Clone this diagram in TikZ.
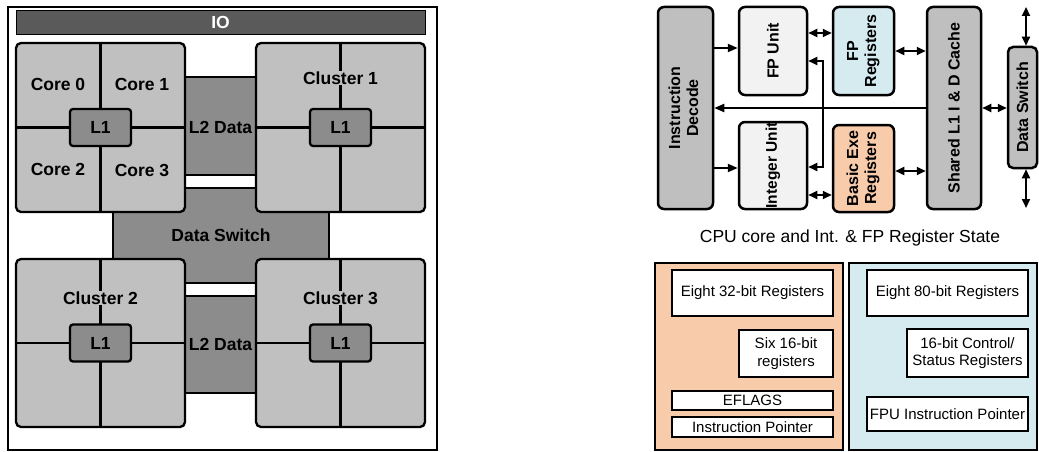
\documentclass[tikz,border=0pt]{standalone}
\usepackage{fontspec}
\setmainfont{Liberation Sans}
\usetikzlibrary{arrows.meta}
\definecolor{cllight}{HTML}{C0C0C0}
\definecolor{clmid}{HTML}{8C8C8C}
\definecolor{cldark}{HTML}{5A5A5A}
\definecolor{unitgray}{HTML}{BFBFBF}
\definecolor{unitwhite}{HTML}{F2F2F2}
\definecolor{regblue}{HTML}{D5EBF0}
\definecolor{regorange}{HTML}{F8CBAB}
\tikzset{
  lbl/.style={font=\fontsize{17.5}{20}\selectfont\bfseries, inner sep=1pt},
  cluster/.style={draw=black, line width=2.3pt, fill=cllight, rounded corners=5pt, inner sep=0pt},
  midbox/.style={draw=black, line width=2.3pt, fill=clmid, inner sep=0pt},
  l1box/.style={draw=black, line width=2.3pt, fill=clmid, rounded corners=3pt, inner sep=0pt, font=\fontsize{17.5}{20}\selectfont\bfseries},
  unit/.style={draw=black, line width=2.5pt, rounded corners=6pt, inner sep=0pt, align=center, font=\fontsize{16}{18}\selectfont\bfseries},
  tipstyle/.style={-{Triangle[length=10pt,width=8pt]}, line width=2pt},
  dbl/.style={{Triangle[length=9pt,width=8pt]}-{Triangle[length=9pt,width=8pt]}, line width=2pt},
  panel/.style={draw=black, line width=1.2pt, inner sep=0pt},
  regbox/.style={draw=black, line width=1.2pt, fill=white, inner sep=0pt, align=center, font=\fontsize{15}{17.5}\selectfont},
}
\begin{document}
\begin{tikzpicture}[x=1pt, y=-1pt]
\useasboundingbox (0,0) rectangle (1039,452);
% ---------- Left panel ----------
\node[draw=black, line width=1.5pt, minimum width=429, minimum height=443, inner sep=0pt] (outer) at (222.5,228.5) {};
\node[draw=black, line width=0.8pt, fill=cldark, minimum width=409, minimum height=24, inner sep=0pt, text=white, font=\fontsize{17.5}{20}\selectfont\bfseries] (io) at (220.5,22) {IO};
\node[midbox, minimum width=216, minimum height=95] (dsw) at (221,235.5) {};
\node[lbl] (dswl) at (221,235.5) {Data Switch};
\node[midbox, minimum width=71, minimum height=98] (l2a) at (220.5,126) {};
\node[midbox, minimum width=71, minimum height=97] (l2b) at (220.5,344.5) {};
\node[cluster, minimum width=169, minimum height=169] (c0) at (100.5,127.5) {};
\node[cluster, minimum width=169, minimum height=169] (c1) at (340.5,127.5) {};
\node[cluster, minimum width=169, minimum height=168] (c2) at (100.5,343) {};
\node[cluster, minimum width=169, minimum height=168] (c3) at (340.5,343) {};
\foreach \c in {c0,c1,c2,c3}{
  \draw[line width=2.3pt] (\c.north) -- (\c.south);
  \draw[line width=2.3pt] (\c.west) -- (\c.east);
}
\node[lbl] at (220.5,127) (l2al) {L2 Data};
\node[lbl] at (220.5,344) (l2bl) {L2 Data};
\node[l1box, minimum width=61, minimum height=37] (l10) at (100.5,127.5) {L1};
\node[l1box, minimum width=61, minimum height=37] (l11) at (340.5,127.5) {L1};
\node[l1box, minimum width=61, minimum height=37] (l12) at (100.5,343) {L1};
\node[l1box, minimum width=61, minimum height=37] (l13) at (340.5,343) {L1};
\node[lbl] (core0) at (58,84) {Core 0};
\node[lbl] (core1) at (142,84) {Core 1};
\node[lbl] (core2) at (58,169) {Core 2};
\node[lbl] (core3) at (142,170) {Core 3};
\node[lbl, fill=cllight] (cl1) at (340.5,78) {Cluster 1};
\node[lbl, fill=cllight] (cl2) at (100.5,298) {Cluster 2};
\node[lbl, fill=cllight] (cl3) at (340.5,298) {Cluster 3};
% ---------- Right top ----------
\node[unit, fill=unitgray, minimum width=55, minimum height=202] (dec) at (685.5,108) {\rotatebox{90}{\begin{tabular}{@{}c@{}}Instruction\\Decode\end{tabular}}};
\node[unit, fill=unitwhite, minimum width=68, minimum height=88] (fpu) at (773,51) {\rotatebox{90}{FP Unit}};
\node[unit, fill=unitwhite, minimum width=68, minimum height=87] (intu) at (773,165.5) {\rotatebox{90}{\fontsize{15.5}{17}\selectfont Integer Unit}};
\node[unit, fill=regblue, minimum width=61, minimum height=88] (fpr) at (863.5,51) {\rotatebox{90}{\begin{tabular}{@{}c@{}}FP\\Registers\end{tabular}}};
\node[unit, fill=regorange, minimum width=61, minimum height=87] (ber) at (863.5,168.5) {\rotatebox{90}{\begin{tabular}{@{}c@{}}Basic Exe\\Registers\end{tabular}}};
\node[unit, fill=unitgray, minimum width=54, minimum height=202] (cache) at (954,108) {\rotatebox{90}{Shared L1 I \& D Cache}};
\node[unit, fill=unitgray, minimum width=29, minimum height=121, rounded corners=5pt] (dsr) at (1022.5,107.5) {\rotatebox{90}{Data Switch}};
\coordinate (dtop) at (1026,7);
\coordinate (dbot) at (1026,208);
\draw[dbl] (dtop) -- (dsr.north -| dtop);
\draw[dbl] (dsr.south -| dbot) -- (dbot);
\draw[tipstyle] (dec.east |- 0,48) -- (fpu.west |- 0,48);
\draw[tipstyle] (dec.east |- 0,168) -- (intu.west |- 0,168);
\draw[tipstyle] (cache.west |- 0,108) -- (dec.east |- 0,108);
\draw[dbl] (fpu.east |- 0,33) -- (fpr.west |- 0,33);
\draw[dbl] (fpr.east |- 0,51) -- (cache.west |- 0,51);
\draw[dbl] (intu.east |- 0,195) -- (ber.west |- 0,195);
\draw[dbl] (ber.east |- 0,171) -- (cache.west |- 0,171);
\draw[dbl] (cache.east |- 0,108) -- (dsr.west |- 0,108);
\draw[{Triangle[length=9pt,width=8pt]}-{Triangle[length=9pt,width=8pt]}, line width=1.8pt] (intu.east |- 0,167) -- (823,167) -- (823,61) -- (fpu.east |- 0,61);
\node[font=\fontsize{17.5}{20}\selectfont] (cap) at (850,238) {CPU core and Int. \& FP Register State};
% ---------- Right bottom ----------
\node[panel, fill=regorange, minimum width=188, minimum height=187] (po) at (749,356.5) {};
\node[panel, fill=regblue, minimum width=188, minimum height=187] (pb) at (943,356.5) {};
\node[regbox, minimum width=161, minimum height=46] (r32) at (752.5,293) {Eight 32-bit Registers};
\node[regbox, minimum width=94, minimum height=47] (r16) at (786,353.5) {Six 16-bit\\registers};
\node[regbox, minimum width=161, minimum height=19] (efl) at (752.5,400.5) {EFLAGS};
\node[regbox, minimum width=161, minimum height=20] (ip) at (752.5,427) {Instruction Pointer};
\node[regbox, minimum width=161, minimum height=46] (r80) at (947.5,293) {Eight 80-bit Registers};
\node[regbox, minimum width=121, minimum height=48] (csr) at (967.5,353) {16-bit Control/\\Status Registers};
\node[regbox, minimum width=161, minimum height=34] (fip) at (947.5,414) {FPU Instruction Pointer};
\end{tikzpicture}
\end{document}
